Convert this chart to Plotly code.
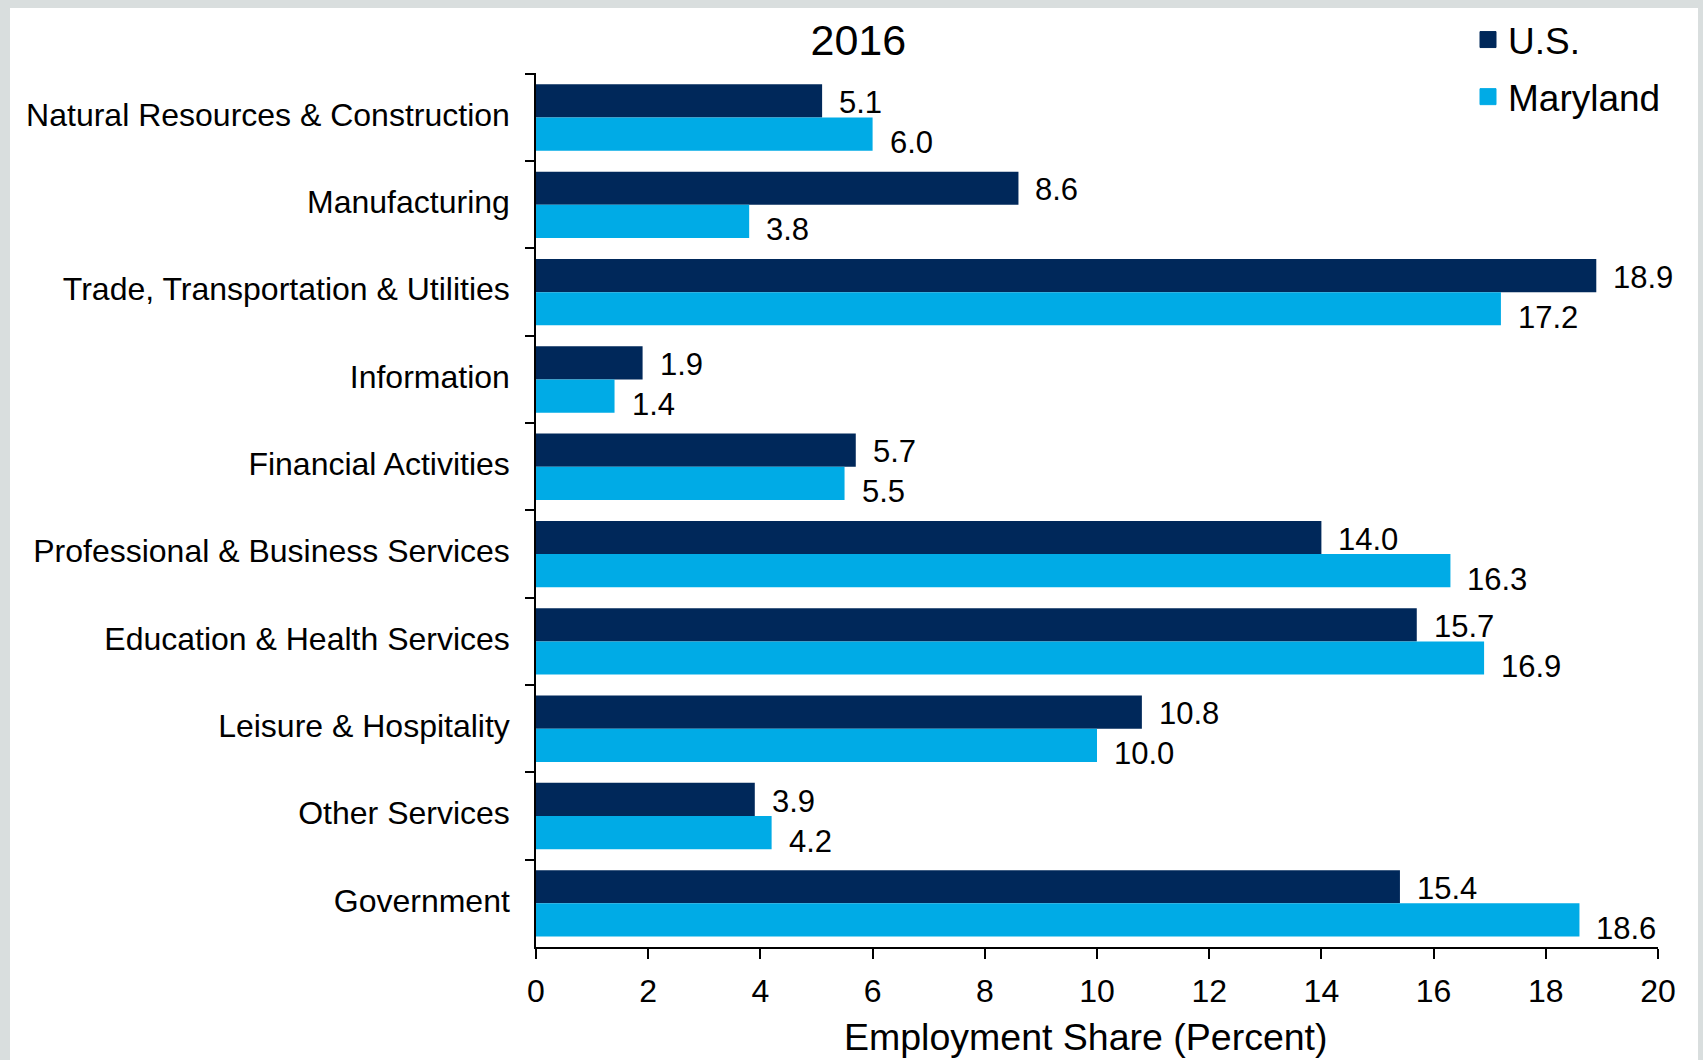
import plotly.graph_objects as go

categories = [
    "Natural Resources & Construction",
    "Manufacturing",
    "Trade, Transportation & Utilities",
    "Information",
    "Financial Activities",
    "Professional & Business Services",
    "Education & Health Services",
    "Leisure & Hospitality",
    "Other Services",
    "Government",
]
us_values = [5.1, 8.6, 18.9, 1.9, 5.7, 14.0, 15.7, 10.8, 3.9, 15.4]
md_values = [6.0, 3.8, 17.2, 1.4, 5.5, 16.3, 16.9, 10.0, 4.2, 18.6]
series_names = ["U.S.", "Maryland"]
x_ticks = [0, 2, 4, 6, 8, 10, 12, 14, 16, 18, 20]
chart_title = "2016"
x_title = "Employment Share (Percent)"

W, H = 1703, 1060
ML, MR, MT, MB = 536, 45, 73, 113
PW = W - ML - MR
PH = H - MT - MB

NAVY = "#00285A"
SKY = "#00ABE6"
FONT = "Liberation Sans, Arial, sans-serif"

def px_x(p):
    return (p - ML) / PW

def px_y(p):
    return (H - MB - p) / PH

fig = go.Figure()
for name, vals, col in [(series_names[0], us_values, NAVY), (series_names[1], md_values, SKY)]:
    fig.add_trace(go.Bar(
        name=name, x=vals, y=categories, orientation="h",
        marker=dict(color=col, line=dict(width=0)),
        showlegend=False, hoverinfo="x+y",
    ))
# legend entries with larger square swatches
for i, (name, col) in enumerate([(series_names[0], NAVY), (series_names[1], SKY)]):
    fig.add_trace(go.Scatter(
        name=name, x=[None], y=[None], mode="markers",
        marker=dict(symbol="square", size=16, color=col, line=dict(color=col, width=1)),
        legendgroup="g%d" % i, showlegend=True,
    ))

annotations = []
for vals, ys in [(us_values, 15), (md_values, -25)]:
    for c, v in zip(categories, vals):
        annotations.append(dict(
            x=v, y=c, xref="x", yref="y", text="%.1f" % v, showarrow=False,
            xanchor="left", yanchor="middle", xshift=15, yshift=ys,
            font=dict(family=FONT, size=31, color="#000000"),
        ))
annotations.append(dict(
    x=px_x(1086), y=px_y(1037), xref="paper", yref="paper", text=x_title, showarrow=False,
    xanchor="center", yanchor="middle", font=dict(family=FONT, size=37.5, color="#000000"),
))

fig.update_layout(
    width=W, height=H,
    margin=dict(l=ML, r=MR, t=MT, b=MB, pad=0, autoexpand=False),
    paper_bgcolor="#D9DEDE",
    plot_bgcolor="#FFFFFF",
    barmode="group", bargap=0.24, bargroupgap=0,
    font=dict(family=FONT, color="#000000"),
    title=dict(text=chart_title, x=0.504, xref="container", xanchor="center",
               y=1 - 40 / H, yref="container", yanchor="middle",
               font=dict(family=FONT, size=43, color="#000000")),
    legend=dict(x=px_x(1468), y=px_y(9), xanchor="left", yanchor="top",
                font=dict(family=FONT, size=37, color="#000000"),
                bgcolor="rgba(0,0,0,0)", traceorder="grouped", tracegroupgap=6,
                itemclick=False, itemdoubleclick=False),
    shapes=[dict(type="rect", xref="paper", yref="paper",
                 x0=px_x(10), x1=px_x(1698), y0=px_y(H + 5), y1=px_y(8),
                 fillcolor="#FFFFFF", line=dict(width=0), layer="below")],
    annotations=annotations,
    xaxis=dict(range=[0, 20], tickvals=x_ticks, ticktext=[str(t) for t in x_ticks],
               automargin=False,
               showgrid=False, zeroline=False, showline=True, linecolor="#000000", linewidth=2,
               ticks="outside", ticklen=10, tickwidth=2, tickcolor="#000000",
               ticklabelstandoff=5,
               tickfont=dict(family=FONT, size=32, color="#000000")),
    yaxis=dict(autorange="reversed", type="category", showgrid=False, zeroline=False,
               automargin=False,
               showline=True, linecolor="#000000", linewidth=1.5,
               ticks="outside", tickson="boundaries", ticklen=9, tickwidth=1.5, tickcolor="#000000",
               tickfont=dict(family=FONT, size=32, color="#000000"), ticklabelstandoff=18,
               ticklabelshift=3),
)

fig.write_html("out.html", config={"displayModeBar": False},
               post_script="document.body.style.margin='0';document.body.style.overflow='hidden';")
